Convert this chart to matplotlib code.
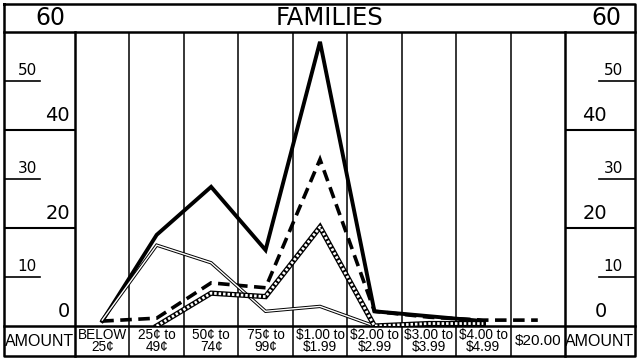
import matplotlib.pyplot as plt

W, H = 639, 360

categories = ["BELOW\n25¢", "25¢ to\n49¢", "50¢ to\n74¢", "75¢ to\n99¢",
              "$1.00 to\n$1.99", "$2.00 to\n$2.99", "$3.00 to\n$3.99",
              "$4.00 to\n$4.99", "$20.00"]
big_ticks = [0, 20, 40]
small_ticks = [10, 30, 50]

total = [1, 18.6, 28.4, 15.5, 58, 3, 2, 1]
dashed_series = [1, 1.6, 8.8, 7.8, 34, 3, 1.8, 1.2, 1.2]
outlined = [1.2, 16.5, 12.9, 3, 4, 0]
hatched = [0, 6.7, 6, 20.2, 0, 0.5, 0.5]  # starts in the 25¢ column

NARROW = ["Liberation Sans", "DejaVu Sans"]
WIDE = ["DejaVu Sans"]

fig = plt.figure(figsize=(W / 100, H / 100), dpi=100)


def box(x0, y0, x1, y1):
    ax = fig.add_axes([x0 / W, 1 - y1 / H, (x1 - x0) / W, (y1 - y0) / H])
    ax.set_axis_off()
    ax.patch.set_visible(False)
    return ax


# outer frame, title band and bottom row rules
frame = box(0, 0, W, H)
frame.set_xlim(0, W)
frame.set_ylim(H, 0)
frame.plot([4, 635, 635, 4, 4], [4, 4, 356, 356, 4], color="black", lw=1.8)
frame.plot([4, 635], [32, 32], color="black", lw=1.8)
frame.plot([4, 635], [326, 326], color="black", lw=1.8)
for xv in [75, 565]:
    frame.plot([xv, xv], [32, 356], color="black", lw=1.8)
frame.text(50, 18, "60", family=WIDE, fontsize=17, ha="center", va="center")
frame.text(606, 18, "60", family=WIDE, fontsize=17, ha="center", va="center")
frame.text(330, 18, "FAMILIES", family=WIDE, fontsize=17.5, ha="center", va="center")
frame.text(40, 342, "AMOUNT", family=NARROW, fontsize=11.5, ha="center", va="center")
frame.text(600, 342, "AMOUNT", family=NARROW, fontsize=11.5, ha="center", va="center")

# scale columns
left = box(4, 32, 75, 326)
right = box(565, 32, 635, 326)
for sc in (left, right):
    sc.set_xlim(0, 1)
    sc.set_ylim(0, 60)

for v in big_ticks:
    if v > 0:
        left.axhline(v, 0, 1, color="black", lw=1.5)
        right.axhline(v, 0, 1, color="black", lw=1.5)
    left.text(0.93, v + 1.1, str(v), family=WIDE, fontsize=14, ha="right", va="bottom")
    right.text(0.6, v + 1.1, str(v), family=WIDE, fontsize=14, ha="right", va="bottom")
for v in small_ticks:
    left.axhline(v, 0, 0.51, color="black", lw=1.2)
    right.axhline(v, 0.48, 1, color="black", lw=1.2)
    left.text(0.33, v + 0.7, str(v), family=WIDE, fontsize=11, ha="center", va="bottom")
    right.text(0.69, v + 0.7, str(v), family=WIDE, fontsize=11, ha="center", va="bottom")

# main plotting area
ax = box(75, 32, 565, 326)
ax.set_xlim(-0.5, len(categories) - 0.5)
ax.set_ylim(0, 60)
for i in range(len(categories) - 1):
    ax.axvline(i + 0.5, color="black", lw=1.1)

xs = list(range(len(categories)))
ax.plot(xs[:len(total)], total, color="black", lw=2.8, solid_joinstyle="miter")
ax.plot(xs, dashed_series, color="black", lw=2.6, dashes=(3.2, 1.8),
        dash_joinstyle="miter")
ax.plot(xs[:len(outlined)], outlined, color="black", lw=2.4, solid_joinstyle="miter")
ax.plot(xs[:len(outlined)], outlined, color="white", lw=1.0, solid_joinstyle="miter")
hx = xs[1:1 + len(hatched)]
ax.plot(hx, hatched, color="black", lw=3.8, solid_joinstyle="miter")
ax.plot(hx, hatched, color="white", lw=2.0, dashes=(0.9, 0.7))

# bottom row of amount labels
bottom = box(75, 326, 565, 356)
bottom.set_xlim(-0.5, len(categories) - 0.5)
bottom.set_ylim(0, 1)
for i in range(len(categories) - 1):
    bottom.axvline(i + 0.5, color="black", lw=1.1)
for i, lab in enumerate(categories):
    size = 11 if "\n" not in lab else 9.8
    bottom.text(i, 0.5, lab, family=NARROW, fontsize=size, ha="center",
                va="center", linespacing=0.85)

fig.savefig("out.png", dpi=100)
